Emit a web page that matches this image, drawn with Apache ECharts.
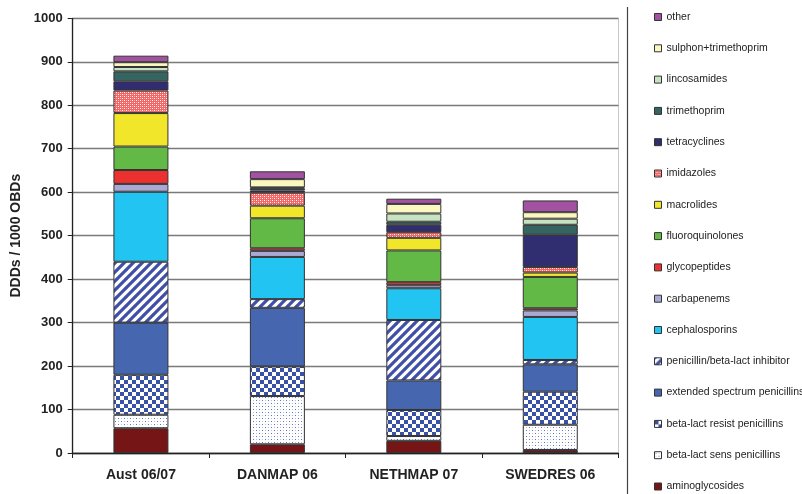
<!DOCTYPE html>
<html>
<head>
<meta charset="utf-8">
<script src="https://cdn.jsdelivr.net/npm/echarts@6/dist/echarts.min.js"></script>
<style>
html,body{margin:0;padding:0;background:#fff;}
#chart{width:802px;height:494px;}
</style>
</head>
<body>
<div id="chart"></div>
<script>
// ---- data ----
var categories = ['Aust 06/07', 'DANMAP 06', 'NETHMAP 07', 'SWEDRES 06'];
var yTicks = [0, 100, 200, 300, 400, 500, 600, 700, 800, 900, 1000];

var aminoglycosides   = [57, 20, 28, 7];
var betaSens          = [31, 111, 11, 58];
var betaResist        = [92, 68, 60, 76];
var extendedSpectrum  = [120, 135, 68, 63];
var penBLI            = [140, 20, 139, 10];
var cephalosporins    = [161, 97, 73, 99];
var carbapenems       = [18, 14, 7, 15];
var glycopeptides     = [32, 6, 7, 5];
var fluoroquinolones  = [54, 69, 73, 72];
var macrolides        = [77, 29, 29, 10];
var imidazoles        = [52, 30, 13, 13];
var tetracyclines     = [21, 5, 17, 74];
var trimethoprim      = [23, 5, 7, 23];
var lincosamides      = [10, 2, 19, 14];
var sulphonTrim       = [11, 19, 22, 15];
var other             = [15, 18, 12, 27];

// ---- patterns ----
function tile(w, h, draw) {
  var c = document.createElement('canvas');
  c.width = w; c.height = h;
  var g = c.getContext('2d');
  draw(g, w, h);
  return { image: c, repeat: 'repeat' };
}
var blue = '#3a52a6';
var patDots = tile(6, 6, function (g) {
  g.fillStyle = '#ffffff'; g.fillRect(0, 0, 6, 6);
  g.fillStyle = '#5a72c4';
  g.fillRect(1, 1, 1, 1); g.fillRect(4, 4, 1, 1);
  g.fillStyle = '#b3bfe6';
  g.fillRect(4, 1, 1, 1); g.fillRect(1, 4, 1, 1);
});
var patChecker = tile(8, 8, function (g) {
  g.fillStyle = '#ffffff'; g.fillRect(0, 0, 8, 8);
  g.fillStyle = blue;
  g.fillRect(0, 0, 4, 4); g.fillRect(4, 4, 4, 4);
});
var patStripes = tile(9, 9, function (g) {
  g.fillStyle = '#ffffff'; g.fillRect(0, 0, 9, 9);
  g.strokeStyle = '#4050a8'; g.lineWidth = 3.2;
  g.beginPath();
  g.moveTo(-1, 10); g.lineTo(10, -1);
  g.moveTo(-10, 10); g.lineTo(1, -1);
  g.moveTo(8, 10); g.lineTo(19, -1);
  g.stroke();
});
var patImid = tile(4, 4, function (g) {
  g.fillStyle = '#f26666'; g.fillRect(0, 0, 4, 4);
  g.fillStyle = '#ffffff';
  g.fillRect(0, 0, 1, 1); g.fillRect(2, 2, 1, 1);
  g.fillStyle = '#f9b4b4';
  g.fillRect(2, 0, 1, 1); g.fillRect(0, 2, 1, 1);
});

var seriesDefs = [
  ['aminoglycosides', aminoglycosides, '#761515'],
  ['beta-lact sens penicillins', betaSens, patDots],
  ['beta-lact resist penicillins', betaResist, patChecker],
  ['extended spectrum penicillins', extendedSpectrum, '#4667b0'],
  ['penicillin/beta-lact inhibitor', penBLI, patStripes],
  ['cephalosporins', cephalosporins, '#22c4f1'],
  ['carbapenems', carbapenems, '#a9a9d6'],
  ['glycopeptides', glycopeptides, '#ec3030'],
  ['fluoroquinolones', fluoroquinolones, '#62b946'],
  ['macrolides', macrolides, '#f1e62a'],
  ['imidazoles', imidazoles, patImid],
  ['tetracyclines', tetracyclines, '#302e70'],
  ['trimethoprim', trimethoprim, '#356461'],
  ['lincosamides', lincosamides, '#c7e3c1'],
  ['sulphon+trimethoprim', sulphonTrim, '#faf7c0'],
  ['other', other, '#a252a0']
];

var series = seriesDefs.map(function (d) {
  return {
    name: d[0], type: 'bar', stack: 'total', data: d[1],
    barWidth: 55,
    itemStyle: { color: d[2], borderColor: '#333333', borderWidth: 1 },
    emphasis: { disabled: true }
  };
});

var legendData = seriesDefs.map(function (d) { return { name: d[0], icon: 'rect' }; }).reverse();

var chart = echarts.init(document.getElementById('chart'), null, { renderer: 'canvas' });
chart.setOption({
  animation: false,
  backgroundColor: '#ffffff',
  grid: {
    left: 72.7, right: 183.5, top: 18.3, bottom: 41,
    show: true, borderColor: '#c8c8c8', borderWidth: 1, backgroundColor: 'transparent'
  },
  xAxis: {
    type: 'category', data: categories,
    axisLine: { lineStyle: { color: '#222', width: 1.3 } },
    axisTick: { show: true, length: 5, lineStyle: { color: '#222' } },
    axisLabel: { margin: 15, fontFamily: 'Liberation Sans, Arial, sans-serif', fontWeight: 'bold', fontSize: 14, color: '#222' }
  },
  yAxis: {
    type: 'value', min: yTicks[0], max: yTicks[yTicks.length - 1], interval: 100,
    name: 'DDDs / 1000 OBDs', nameLocation: 'middle', nameRotate: 90, nameGap: 44,
    nameTextStyle: { fontFamily: 'Liberation Sans, Arial, sans-serif', fontWeight: 'bold', fontSize: 14, color: '#222' },
    axisLine: { show: true, lineStyle: { color: '#222', width: 1.3 } },
    axisTick: { show: true, inside: false, length: 5, lineStyle: { color: '#222' } },
    axisLabel: { margin: 10, formatter: function (v) { return String(v); }, fontFamily: 'Liberation Sans, Arial, sans-serif', fontWeight: 'bold', fontSize: 13, color: '#222' },
    splitLine: { show: true, lineStyle: { color: '#7a7a7a', width: 1.3 } }
  },
  legend: {
    orient: 'vertical', left: 654, top: 10, padding: 0,
    data: legendData,
    icon: 'rect',
    itemWidth: 7, itemHeight: 7, itemGap: 17.3,
    selectedMode: false,
    textStyle: { fontFamily: 'Liberation Sans, Arial, sans-serif', fontSize: 10.5, color: '#222', lineHeight: 14 },
    itemStyle: { borderColor: '#333', borderWidth: 1 }
  },
  graphic: [{
    type: 'line', shape: { x1: 627.5, y1: 7, x2: 627.5, y2: 494 },
    style: { stroke: '#444', lineWidth: 1.2 }
  }],
  series: series
});
</script>
</body>
</html>
